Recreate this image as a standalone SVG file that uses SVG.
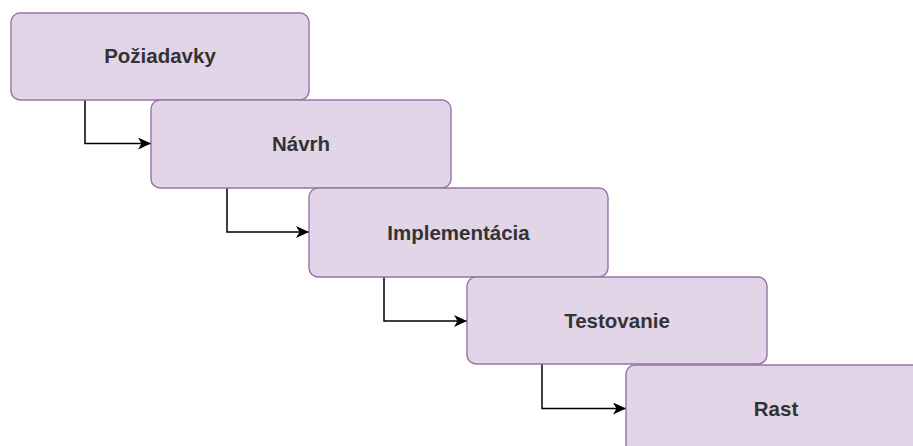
<svg xmlns="http://www.w3.org/2000/svg" width="913" height="446" viewBox="0 0 913 446">
<defs>
<style>
.box{fill:#e1d5e7;stroke:#9673a6;stroke-width:1.4}
.lbl{font-family:"Liberation Sans",Arial,sans-serif;font-size:20.5px;font-weight:bold;fill:#333333;text-anchor:middle}
.edge{fill:none;stroke:#000000;stroke-width:1.5}
</style>
<marker id="arr" viewBox="0 0 13 12" refX="13" refY="6" markerWidth="13" markerHeight="12" markerUnits="userSpaceOnUse" orient="auto">
<path d="M0,0 L13,6 L0,12 L3.5,6 Z" fill="#000000"/>
</marker>
</defs>
<rect width="913" height="446" fill="#ffffff"/>
<g id="connectors">
<path class="edge" d="M85,100 V143.5 H151" marker-end="url(#arr)"/>
<path class="edge" d="M227,188 V232 H309" marker-end="url(#arr)"/>
<path class="edge" d="M384,277 V321 H467" marker-end="url(#arr)"/>
<path class="edge" d="M542,364 V408.5 H626" marker-end="url(#arr)"/>
</g>
<g id="poziadavky">
<rect class="box" x="11" y="13" width="298" height="87" rx="9"/>
<text class="lbl" x="160" y="63">Požiadavky</text>
</g>
<g id="navrh">
<rect class="box" x="151" y="100" width="300" height="88" rx="9"/>
<text class="lbl" x="301" y="151">Návrh</text>
</g>
<g id="implementacia">
<rect class="box" x="309" y="188" width="299" height="89" rx="9"/>
<text class="lbl" x="458.5" y="239.5">Implementácia</text>
</g>
<g id="testovanie">
<rect class="box" x="467" y="277" width="300" height="87" rx="9"/>
<text class="lbl" x="617" y="327.5">Testovanie</text>
</g>
<g id="rast">
<rect class="box" x="626" y="365" width="300" height="88" rx="9"/>
<text class="lbl" x="776" y="416">Rast</text>
</g>
</svg>
